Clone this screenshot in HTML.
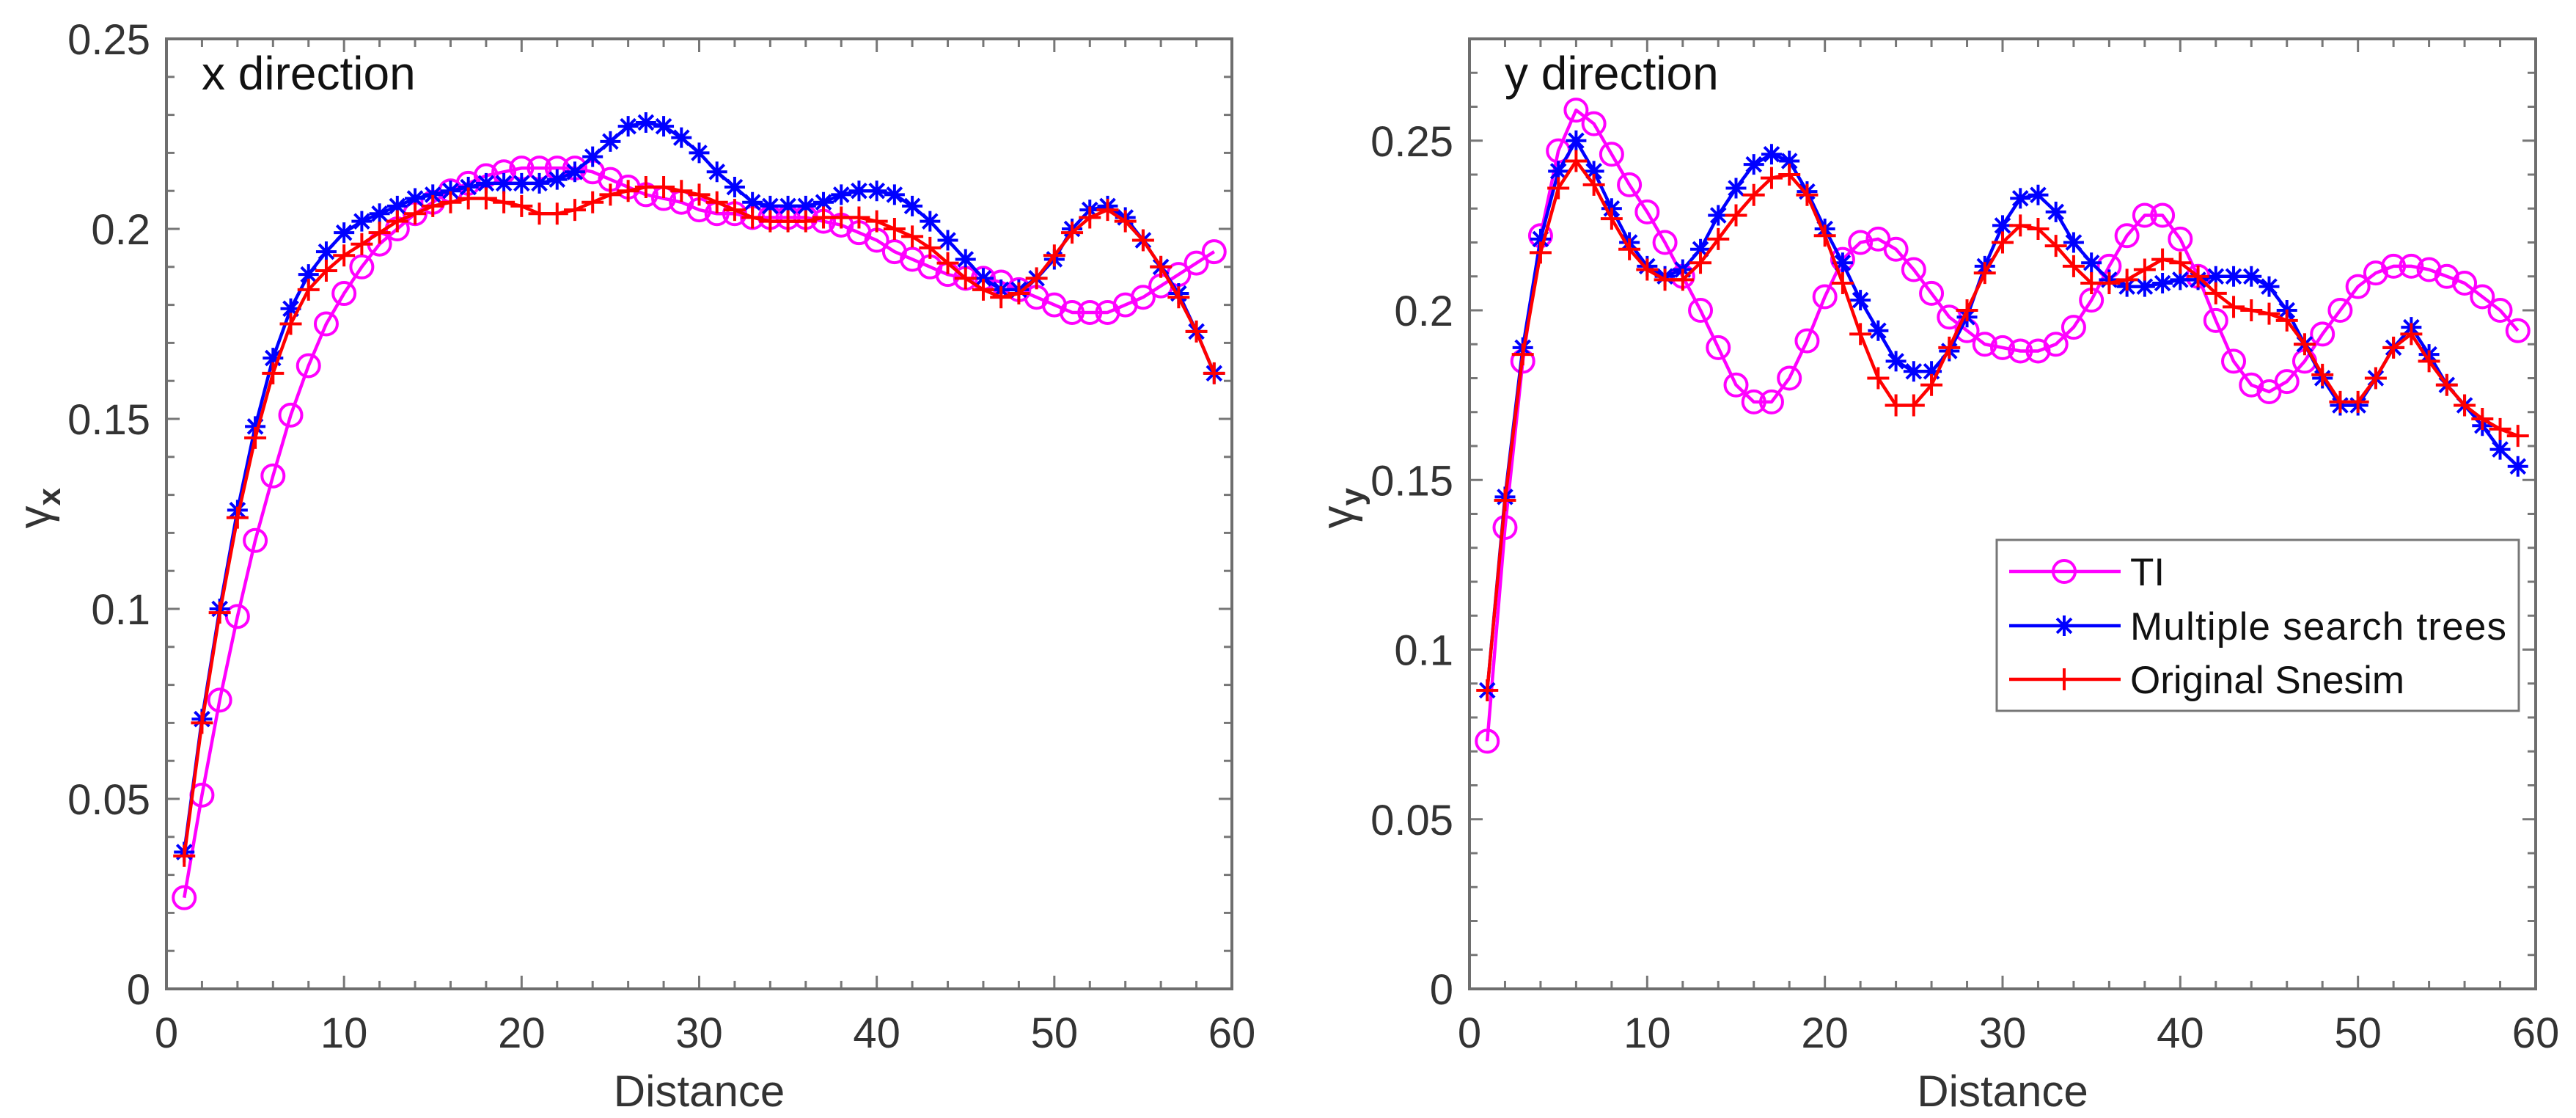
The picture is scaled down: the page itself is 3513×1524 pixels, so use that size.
<!DOCTYPE html>
<html><head><meta charset="utf-8"><style>
html,body{margin:0;padding:0;background:#fff;}
svg{display:block;font-family:"Liberation Sans",Arial,sans-serif;}
</style></head><body>
<svg id="fig" width="3513" height="1524" viewBox="0 0 3513 1524" xmlns="http://www.w3.org/2000/svg">
<rect width="3513" height="1524" fill="#fff"/>
</svg>
<script>
const distances = Array.from({length:59},(_, i)=>i+1);
const xTI  = [0.024,0.051,0.076,0.098,0.118,0.135,0.151,0.164,0.175,0.183,0.190,0.196,0.200,0.204,0.207,0.210,0.212,0.214,0.215,0.216,0.216,0.216,0.216,0.215,0.213,0.211,0.209,0.208,0.207,0.205,0.204,0.204,0.203,0.203,0.203,0.203,0.202,0.201,0.199,0.197,0.194,0.192,0.190,0.188,0.187,0.187,0.186,0.184,0.182,0.180,0.178,0.178,0.178,0.180,0.182,0.185,0.188,0.191,0.194];
const xMST = [0.036,0.071,0.100,0.126,0.148,0.166,0.179,0.188,0.194,0.199,0.202,0.204,0.206,0.208,0.209,0.210,0.211,0.212,0.212,0.212,0.212,0.213,0.215,0.219,0.223,0.227,0.228,0.227,0.224,0.220,0.215,0.211,0.207,0.206,0.206,0.206,0.207,0.209,0.210,0.210,0.209,0.206,0.202,0.197,0.192,0.187,0.184,0.184,0.187,0.192,0.200,0.205,0.206,0.203,0.197,0.190,0.183,0.173,0.162];
const xOS  = [0.035,0.070,0.099,0.124,0.145,0.162,0.175,0.184,0.189,0.193,0.196,0.199,0.202,0.204,0.206,0.207,0.208,0.208,0.207,0.206,0.204,0.204,0.205,0.207,0.209,0.210,0.211,0.211,0.210,0.209,0.207,0.205,0.203,0.202,0.202,0.202,0.203,0.203,0.203,0.202,0.200,0.198,0.195,0.191,0.187,0.184,0.182,0.183,0.187,0.193,0.199,0.203,0.205,0.202,0.197,0.190,0.182,0.173,0.162];
const yTI  = [0.073,0.136,0.185,0.222,0.247,0.259,0.255,0.246,0.237,0.229,0.220,0.210,0.200,0.189,0.178,0.173,0.173,0.180,0.191,0.204,0.215,0.220,0.221,0.218,0.212,0.205,0.198,0.194,0.190,0.189,0.188,0.188,0.190,0.195,0.203,0.213,0.222,0.228,0.228,0.221,0.210,0.197,0.185,0.178,0.176,0.179,0.185,0.193,0.200,0.207,0.211,0.213,0.213,0.212,0.210,0.208,0.204,0.200,0.194];
const yMST = [0.088,0.145,0.189,0.221,0.241,0.250,0.241,0.230,0.220,0.213,0.210,0.212,0.218,0.228,0.236,0.243,0.246,0.244,0.235,0.224,0.214,0.203,0.194,0.185,0.182,0.182,0.188,0.198,0.213,0.225,0.233,0.234,0.229,0.220,0.214,0.209,0.207,0.207,0.208,0.209,0.209,0.210,0.210,0.210,0.207,0.200,0.190,0.180,0.172,0.172,0.180,0.189,0.195,0.187,0.178,0.172,0.166,0.159,0.154];
const yOS  = [0.088,0.144,0.187,0.217,0.236,0.244,0.237,0.227,0.218,0.212,0.209,0.209,0.214,0.221,0.228,0.234,0.239,0.240,0.234,0.222,0.208,0.193,0.180,0.172,0.172,0.178,0.189,0.200,0.211,0.220,0.225,0.224,0.219,0.213,0.208,0.208,0.209,0.212,0.215,0.214,0.210,0.205,0.201,0.200,0.199,0.197,0.190,0.181,0.173,0.173,0.180,0.189,0.193,0.185,0.178,0.172,0.168,0.165,0.163];
const xTicks = [0,10,20,30,40,50,60];
const yTicksX = [0,0.05,0.1,0.15,0.2,0.25];
const yTickLabelsX = ['0','0.05','0.1','0.15','0.2','0.25'];
const yTicksY = [0,0.05,0.1,0.15,0.2,0.25];
const yTickLabelsY = ['0','0.05','0.1','0.15','0.2','0.25'];

const NS='http://www.w3.org/2000/svg';
const svg=document.getElementById('fig');
function mk(tag,attrs,parent){const e=document.createElementNS(NS,tag);for(const k in attrs)e.setAttribute(k,attrs[k]);(parent||svg).appendChild(e);return e;}

function drawPanel(o){
  const g=mk('g',{});
  
  
  const L=o.L,R=o.R,T=53,B=1348;
  const sx=v=>L+(v/60)*(R-L);
  const sy=v=>B-(v/o.ymax)*(B-T);
  for(let v=0;v<=60;v+=2){
    const major=v%10===0;const len=major?18:11;
    mk('line',{x1:sx(v),x2:sx(v),y1:B,y2:B-len,stroke:'#777','stroke-width':3},g);
    mk('line',{x1:sx(v),x2:sx(v),y1:T,y2:T+len,stroke:'#777','stroke-width':3},g);
  }
  for(let i=0;i*0.01<=o.ymax+1e-9;i++){
    const v=i*0.01;const major=i%5===0;const len=major?18:11;
    mk('line',{x1:L,x2:L+len,y1:sy(v),y2:sy(v),stroke:'#777','stroke-width':3},g);
    mk('line',{x1:R,x2:R-len,y1:sy(v),y2:sy(v),stroke:'#777','stroke-width':3},g);
  }
  const frame=mk('rect',{x:L,y:T,width:R-L,height:B-T,fill:'none',stroke:'#6e6e6e','stroke-width':4},g);
  
  
  xTicks.forEach(v=>{
    const t=mk('text',{x:sx(v),y:1428,'text-anchor':'middle','font-size':58,fill:'#333'},g);
    
    
    t.textContent=v;
  });
  o.yTicks.forEach((v,i)=>{
    const t=mk('text',{x:L-22,y:sy(v)+21,'text-anchor':'end','font-size':58,fill:'#333'},g);
    
    
    t.textContent=o.yLabels[i];
  });
  const xt=mk('text',{x:(L+R)/2,y:1508,'text-anchor':'middle','font-size':60,fill:'#333'},g);
  
  
  xt.textContent='Distance';
  const yt=mk('text',{x:0,y:0,'font-size':62,fill:'#333',transform:`translate(${o.ylx},${(T+B)/2+20}) rotate(-90)`},g);
  
  
  yt.innerHTML='γ<tspan font-weight="bold" font-size="44" dy="14">'+o.sub+'</tspan>';
  const tt=mk('text',{x:L+48,y:122,'font-size':64,fill:'#111'},g);
  
  
  tt.textContent=o.title;
  const series=[{d:o.ti,c:'#ff00ff',m:'circle',n:'ti-series'},{d:o.mst,c:'#0000ff',m:'star',n:'multiple-search-trees-series'},{d:o.os,c:'#ff0000',m:'plus',n:'original-snesim-series'}];
  series.forEach(s=>{
    const sg=mk('g',{},g);
    
    
    const pts=s.d.map((v,i)=>sx(distances[i])+','+sy(v)).join(' ');
    mk('polyline',{points:pts,fill:'none',stroke:s.c,'stroke-width':4.5,'stroke-linejoin':'round'},sg);
    s.d.forEach((v,i)=>drawMarker(sg,s.m,sx(distances[i]),sy(v),s.c));
  });
}
function drawMarker(p,m,x,y,c){
  let e;
  if(m==='circle'){e=mk('circle',{cx:x,cy:y,r:15,fill:'none',stroke:c,'stroke-width':4},p);}
  else if(m==='plus'){e=mk('path',{d:`M${x-15},${y}H${x+15}M${x},${y-15}V${y+15}`,stroke:c,'stroke-width':4,fill:'none'},p);}
  else{const r=14,a=r*0.707;e=mk('path',{d:`M${x-r},${y}H${x+r}M${x},${y-r}V${y+r}M${x-a},${y-a}L${x+a},${y+a}M${x-a},${y+a}L${x+a},${y-a}`,stroke:c,'stroke-width':4,fill:'none'},p);}
  
  
}
drawPanel({name:'x-direction-chart',L:227,R:1680,ymax:0.25,yTicks:yTicksX,yLabels:yTickLabelsX,ylx:68,sub:'x',title:'x direction',ti:xTI,mst:xMST,os:xOS});
drawPanel({name:'y-direction-chart',L:2004,R:3458,ymax:0.28,yTicks:yTicksY,yLabels:yTickLabelsY,ylx:1845,sub:'y',title:'y direction',ti:yTI,mst:yMST,os:yOS});

const lg=mk('g',{});


mk('rect',{x:2723,y:736,width:712,height:233,fill:'#fff',stroke:'#777','stroke-width':3},lg);
const entries=[{t:'TI',c:'#ff00ff',m:'circle'},{t:'Multiple search trees',c:'#0000ff',m:'star'},{t:'Original Snesim',c:'#ff0000',m:'plus'}];
const ly=[779,853,926];
entries.forEach((e,i)=>{
  const eg=mk('g',{},lg);
  
  
  mk('line',{x1:2740,x2:2892,y1:ly[i],y2:ly[i],stroke:e.c,'stroke-width':4.5},eg);
  drawMarker(eg,e.m,2815,ly[i],e.c);
  const t=mk('text',{x:2905,y:ly[i]+19,'font-size':53,fill:'#111',textLength:e.t.length>10?(e.t.length>16?513:0):0},eg);
  if(!t.getAttribute('textLength')||t.getAttribute('textLength')==='0')t.removeAttribute('textLength');
  
  
  t.textContent=e.t;
});
</script>
</body></html>
